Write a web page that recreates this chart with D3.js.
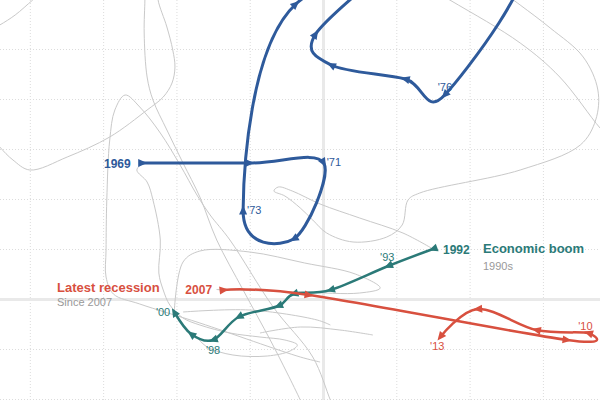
<!DOCTYPE html>
<html><head><meta charset="utf-8">
<script src="https://cdn.jsdelivr.net/npm/d3@7"></script>
<style>
body{margin:0;background:#fff}
svg{display:block;font-family:"Liberation Sans",Arial,Helvetica,sans-serif}
</style>
</head><body>
<svg id="chart" width="600" height="400"></svg>
<script>
// ---------- data ----------
const xTicks = [-4, -3, -2, -1, 0, 1, 2, 3];
const yTicks = [-2, -1, 0, 1, 2, 3, 4, 5];

const seventiesYears = [1969, 1970, 1971, 1972, 1973, 1974, 1975, 1976, 1977, 1978, 1979, 1980];
const seventiesX = [-2.46, -1.00, 0.01, -0.40, -1.09, -0.37, 2.69, 1.66, 1.12, 0.11, -0.10, 1.05];
const seventiesY = [2.72, 2.72, 2.72, 1.20, 1.78, 5.90, 6.88, 4.08, 4.40, 4.68, 5.30, 6.82];

const boomYears = [1992, 1993, 1994, 1995, 1996, 1997, 1998, 1999, 2000];
const boomX = [1.50, 0.89, 0.10, -0.40, -0.61, -1.15, -1.50, -1.80, -2.03];
const boomY = [1.00, 0.66, 0.18, 0.10, -0.14, -0.36, -0.82, -0.70, -0.26];

const recessionYears = [2007, 2008, 2009, 2010, 2011, 2012, 2013];
const recessionX = [-1.35, -0.19, 3.33, 3.62, 2.91, 2.11, 1.60];
const recessionY = [0.18, 0.08, -0.82, -0.68, -0.62, -0.20, -0.76];

// other years, drawn in grey
const grey60s = [[-1.75,-0.72],[-1.58,-0.96],[-1.23,-1.12],[-0.76,-1.14],[-0.45,-1.04],[-0.35,-0.92],[-0.52,-0.82],[-0.86,-0.76],[-1.27,-0.68],[-1.68,-0.52],[-1.91,-0.38],[-2.09,-0.12],[-2.18,0.18],[-2.24,0.52],[-2.22,1.18],[-2.32,1.98],[-2.40,2.34],[-2.54,2.58],[-2.46,2.72]];
const grey80sA = [[0.78,6.78],[1.73,5.98],[2.69,5.12],[3.23,4.44],[3.78,3.42],[3.92,3.22]];
const grey80sB = [[2.41,6.18],[2.69,5.88],[3.10,5.42],[3.55,4.84],[3.75,4.18],[3.72,3.58],[3.51,3.08],[2.69,2.58],[1.32,2.12],[1.16,1.98],[1.08,1.48],[0.87,1.24],[0.41,1.14],[0.05,1.32],[-0.14,1.58],[-0.31,1.82],[-0.52,2.06],[-0.67,2.16],[-0.61,2.24],[-0.42,2.16],[-0.04,1.90],[0.50,1.62],[1.09,1.32],[1.50,1.00]];
const grey00s = [[-2.03,-0.26],[-1.91,0.74],[-1.68,0.96],[-1.00,0.94],[-0.25,0.72],[0.44,0.50],[0.78,0.22],[0.50,0.12],[-0.31,0.14],[-1.45,0.19],[-1.35,0.18]];
const greyTopLoop = [[-2.25,6.18],[-2.25,5.98],[-2.13,5.44],[-2.05,4.98],[-2.02,4.64],[-2.06,4.32],[-2.18,4.04],[-2.40,3.78],[-2.91,3.24],[-3.49,2.84],[-4.00,2.58],[-4.23,2.78],[-4.41,3.04],[-4.54,3.28]];
const greyCorner = [[-4.54,5.38],[-4.41,5.48],[-4.20,5.68],[-3.96,5.98],[-3.79,6.18]];
const greyDiagA = [[-2.43,6.18],[-2.43,5.98],[-2.44,5.32],[-2.40,4.44],[-2.32,3.98],[-2.13,3.38],[-1.91,2.72],[-1.68,2.04],[-1.45,1.18],[-1.09,0.18],[-0.72,-0.82],[-0.49,-1.48],[-0.31,-2.02],[-0.25,-2.22]];
const greyDiagB = [[-0.04,-1.26],[-0.31,-1.16],[-1.68,-0.48],[-2.50,-0.10],[-2.86,0.10],[-2.96,0.44],[-2.96,0.98],[-2.95,1.98],[-2.91,3.18],[-2.84,3.78],[-2.70,4.08],[-2.50,3.84],[-2.22,3.32],[-1.95,2.68],[-1.72,2.08],[-1.54,1.68],[-1.27,1.18],[-0.68,-0.16],[-0.14,-1.16],[0.10,-2.02],[0.16,-2.22]];
const greyMidA = [[-1.91,-0.26],[-1.00,-0.22],[-0.08,-0.42],[0.10,-0.52]];
const greyMidB = [[-0.86,-0.68],[-0.31,-0.56],[0.23,-0.62],[0.68,-0.72]];

// ---------- setup ----------
const W = 600, H = 400;
const svg = d3.select("#chart");
const x = d3.scaleLinear().domain([-4.407, 3.779]).range([0, W]);
const y = d3.scaleLinear().domain([-2.02, 5.98]).range([H, 0]);

const COLORS = {blue: "#2e5a9b", teal: "#2b7a78", red: "#d8503f"};

// grid via axes
svg.append("g").attr("class", "grid")
  .call(d3.axisBottom(x).tickValues(xTicks).tickSize(H).tickFormat(""));
svg.append("g").attr("class", "grid")
  .call(d3.axisLeft(y).tickValues(yTicks).tickSize(-W).tickFormat(""));
svg.selectAll(".grid .domain").remove();
svg.selectAll(".grid line").attr("stroke", "#dcdcdc").attr("stroke-width", 1).attr("stroke-dasharray", "1,2");
svg.selectAll(".grid .tick").filter(d => d === 0).select("line")
  .attr("stroke", "#e9e9e9").attr("stroke-width", 3).attr("stroke-dasharray", null);

// markers
const defs = svg.append("defs");
Object.entries(COLORS).forEach(([k, c]) => {
  defs.append("marker").attr("id", "m-" + k)
    .attr("viewBox", "-6 -6 12 12").attr("markerWidth", 12).attr("markerHeight", 12)
    .attr("markerUnits", "userSpaceOnUse").attr("orient", "auto")
    .attr("refX", 0).attr("refY", 0)
    .append("path").attr("d", "M-4.5,-4L4.5,0L-4.5,4Z").attr("fill", c);
});

const greyLine = d3.line().x(d => x(d[0])).y(d => y(d[1])).curve(d3.curveCatmullRom.alpha(0.5));
const colorLine = d3.line().x(d => x(d[0])).y(d => y(d[1])).curve(d3.curveCatmullRom.alpha(0));

// grey paths
[grey60s, grey80sA, grey80sB, grey00s, greyTopLoop, greyCorner, greyDiagA, greyDiagB, greyMidA, greyMidB].forEach(p => {
  svg.append("path").attr("d", greyLine(p)).attr("fill", "none")
    .attr("stroke", "#c9c9c9").attr("stroke-width", 1);
});

function series(xs, ys, key, width) {
  const pts = xs.map((v, i) => [v, ys[i]]);
  svg.append("path").attr("d", colorLine(pts)).attr("fill", "none")
    .attr("stroke", COLORS[key]).attr("stroke-width", width)
    .attr("stroke-linejoin", "round").attr("stroke-linecap", "round")
    .attr("marker-start", `url(#m-${key})`)
    .attr("marker-mid", `url(#m-${key})`)
    .attr("marker-end", `url(#m-${key})`);
  return pts;
}
const p70 = series(seventiesX, seventiesY, "blue", 3);
const p90 = series(boomX, boomY, "teal", 2.5);
const p07 = series(recessionX, recessionY, "red", 2.5);

// year labels
function yearLabel(years, pts, year, key, text, dx, dy, anchor, bold) {
  const i = years.indexOf(year);
  svg.append("text")
    .attr("x", x(pts[i][0]) + dx).attr("y", y(pts[i][1]) + dy)
    .attr("text-anchor", anchor)
    .attr("font-size", bold ? 12 : 11)
    .attr("font-weight", bold ? "bold" : "normal")
    .attr("fill", COLORS[key])
    .text(text);
}
yearLabel(seventiesYears, p70, 1969, "blue", "1969", -12, 5, "end", true);
yearLabel(seventiesYears, p70, 1971, "blue", "'71", 3, 3, "start", false);
yearLabel(seventiesYears, p70, 1973, "blue", "'73", 4, 4, "start", false);
yearLabel(seventiesYears, p70, 1976, "blue", "'76", -7, -4, "start", false);
yearLabel(boomYears, p90, 1992, "teal", "1992", 10, 5, "start", true);
yearLabel(boomYears, p90, 1993, "teal", "'93", -1, -5, "middle", false);
yearLabel(boomYears, p90, 1998, "teal", "'98", 0, 14, "middle", false);
yearLabel(boomYears, p90, 2000, "teal", "'00", -4, 4, "end", false);
yearLabel(recessionYears, p07, 2007, "red", "2007", -12, 4, "end", true);
yearLabel(recessionYears, p07, 2010, "red", "'10", -3, -3, "middle", false);
yearLabel(recessionYears, p07, 2013, "red", "'13", -3, 13, "middle", false);

// annotations
function note(px, py, text, color, size, weight) {
  svg.append("text").attr("x", px).attr("y", py).attr("font-size", size)
    .attr("font-weight", weight).attr("fill", color).text(text);
}
note(483, 253, "Economic boom", COLORS.teal, 13, "bold");
note(483, 270, "1990s", "#999", 11, "normal");
note(57, 292, "Latest recession", COLORS.red, 13, "bold");
note(57, 306, "Since 2007", "#999", 11, "normal");
</script>
</body></html>
